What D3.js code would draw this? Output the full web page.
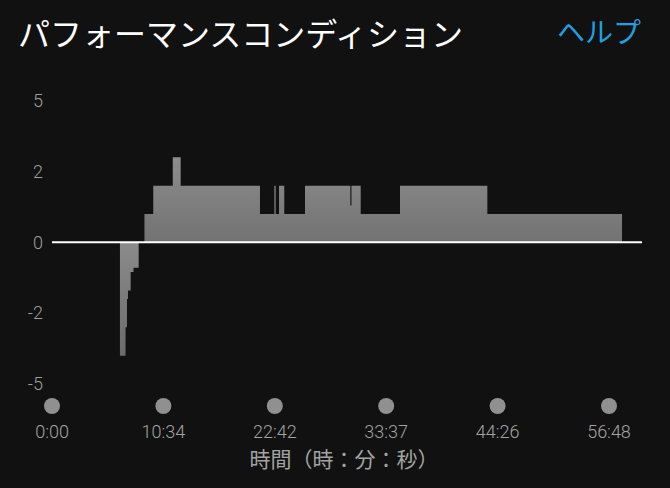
<!DOCTYPE html>
<html><head><meta charset="utf-8">
<script src="https://cdn.jsdelivr.net/npm/d3@7"></script>
<style>
html,body{margin:0;padding:0;background:#111111;}
svg{display:block;}
</style></head>
<body>
<svg id="chart" width="670" height="488"></svg>
<script>
// ---- data ----
const title = "パフォーマンスコンディション";
const helpLabel = "ヘルプ";
const xAxisTitle = "時間（時：分：秒）";
const tickLabels = ["0:00", "10:34", "22:42", "33:37", "44:26", "56:48"];
const yTicks = [5, 2.5, 0, -2.5, -5];
// position along the activity, in units of the equally spaced time markers
const dist = [0, 0.610, 0.660, 0.673, 0.682, 0.706, 0.732, 0.778, 0.830, 0.909, 1.084, 1.155, 1.867, 1.996, 2.008, 2.038, 2.085, 2.271, 2.678, 2.688, 2.771, 3.124, 3.908, 5.117];
const cond = [0, -4, -3, -2, -1.7, -1.05, -0.9, 0, 1, 2, 3, 2, 1, 2, 1, 2, 1, 2, 1.3, 2, 1, 2, 1, 0];

const svg = d3.select("#chart");
const W = 670, H = 488;
svg.append("rect").attr("width", W).attr("height", H).attr("fill", "#111111");

const x = d3.scaleLinear().domain([0, tickLabels.length - 1]).range([52, 609]);
const y = d3.scaleLinear().domain([-5, 5]).range([384, 100.7]);
const plotRight = 642;

const defs = svg.append("defs");
function grad(id, c1, c2) {
  const g = defs.append("linearGradient").attr("id", id)
    .attr("x1", 0).attr("y1", 0).attr("x2", 0).attr("y2", 1);
  g.append("stop").attr("offset", "0%").attr("stop-color", c1);
  g.append("stop").attr("offset", "100%").attr("stop-color", c2);
}
grad("gpos", "#8d8d8d", "#727272");
grad("gneg", "#8b8b8b", "#6b6b6b");

const pts = dist.map((d, i) => ({d, v: cond[i]}));

const areaPos = d3.area()
  .curve(d3.curveStepAfter)
  .x(p => x(p.d))
  .y0(y(0))
  .y1(p => y(Math.max(p.v, 0)));
const areaNeg = d3.area()
  .curve(d3.curveStepAfter)
  .x(p => x(p.d))
  .y0(y(0))
  .y1(p => y(Math.min(p.v, 0)));

svg.append("path").datum(pts).attr("d", areaPos).attr("fill", "url(#gpos)");
svg.append("path").datum(pts).attr("d", areaNeg).attr("fill", "url(#gneg)");

// zero line
svg.append("line")
  .attr("x1", x.range()[0]).attr("x2", plotRight)
  .attr("y1", y(0)).attr("y2", y(0))
  .attr("stroke", "#ffffff").attr("stroke-width", 2);

// y axis labels
const yAxis = d3.axisLeft(y).tickValues(yTicks).tickFormat(d => String(Math.trunc(d))).tickSize(0).tickPadding(0);
const gy = svg.append("g").attr("transform", "translate(43,0)").call(yAxis);
gy.select(".domain").remove();
gy.selectAll("text")
  .attr("fill", "#9f9f9f")
  .attr("font-family", "Roboto, 'Noto Sans', sans-serif")
  .attr("font-size", 18)
  .attr("font-weight", 300);

// x axis: circles + labels
const xg = svg.append("g");
const ticks = xg.selectAll("g.t").data(tickLabels).join("g").attr("class", "t")
  .attr("transform", (d, i) => `translate(${x(i)},0)`);
ticks.append("circle").attr("cy", 406).attr("r", 8).attr("fill", "#909090");
ticks.append("text").attr("y", 438).attr("text-anchor", "middle")
  .attr("fill", "#a3a3a3")
  .attr("font-family", "Roboto, 'Noto Sans', sans-serif")
  .attr("font-size", 18).attr("font-weight", 300)
  .text(d => d);

svg.append("text")
  .attr("x", 344).attr("y", 467)
  .attr("text-anchor", "middle")
  .attr("fill", "#a3a3a3")
  .attr("font-family", "'Noto Sans CJK JP', sans-serif")
  .attr("font-size", 21)
  .text(xAxisTitle);

// header
svg.append("text")
  .attr("x", 18).attr("y", 46)
  .attr("fill", "#ffffff")
  .attr("font-family", "'Noto Sans CJK JP', sans-serif")
  .attr("font-size", 32)
  .text(title);
svg.append("text")
  .attr("x", 641).attr("y", 43)
  .attr("text-anchor", "end")
  .attr("fill", "#239fe0")
  .attr("font-family", "'Noto Sans CJK JP', sans-serif")
  .attr("font-size", 28)
  .text(helpLabel);
</script>
</body></html>
